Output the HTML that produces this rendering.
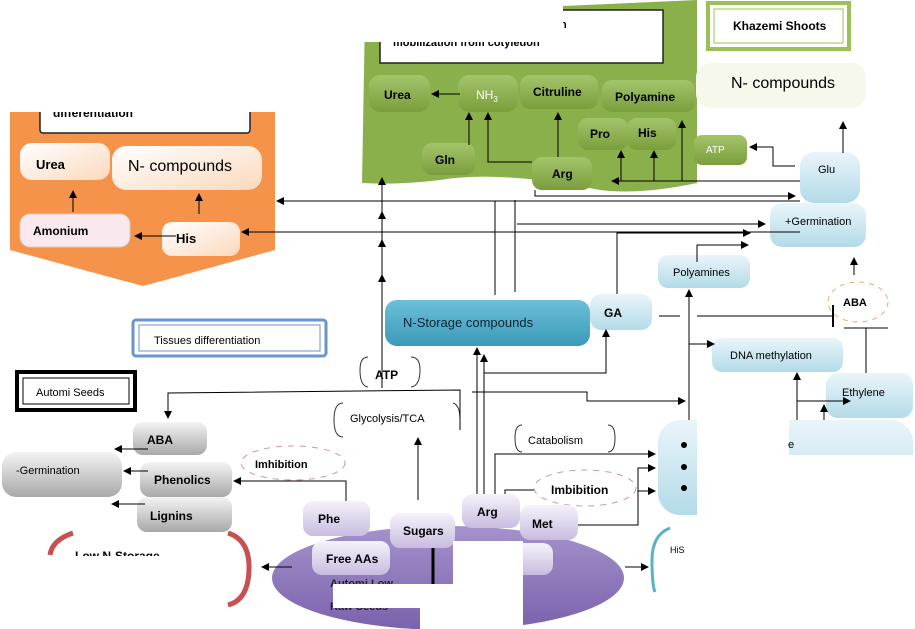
<!DOCTYPE html>
<html><head><meta charset="utf-8"><style>
html,body{margin:0;padding:0;background:#fff}
svg{display:block}
text{font-family:"Liberation Sans",sans-serif}
.b{font-weight:bold}
</style></head><body>
<svg width="915" height="629" viewBox="0 0 915 629" xmlns="http://www.w3.org/2000/svg">
<defs>
<marker id="a" markerWidth="8" markerHeight="8" refX="7" refY="4" orient="auto" markerUnits="userSpaceOnUse"><path d="M0,0 L8,4 L0,8 z" fill="#000"/></marker>
<linearGradient id="og" x1="0" y1="0" x2="1" y2="1"><stop offset="0" stop-color="#fff"/><stop offset="1" stop-color="#fbd9bd"/></linearGradient>
<linearGradient id="gg" x1="0" y1="0" x2="0" y2="1"><stop offset="0" stop-color="#a4c46a"/><stop offset="1" stop-color="#7a9e3c"/></linearGradient>
<linearGradient id="bl" x1="0" y1="0" x2="0" y2="1"><stop offset="0" stop-color="#eaf5fa"/><stop offset="1" stop-color="#b2dbe8"/></linearGradient>
<linearGradient id="tl" x1="0" y1="0" x2="0" y2="1"><stop offset="0" stop-color="#6cc0d8"/><stop offset="1" stop-color="#3a9ab8"/></linearGradient>
<linearGradient id="gr" x1="0" y1="0" x2="0" y2="1"><stop offset="0" stop-color="#f4f4f4"/><stop offset="1" stop-color="#a8a8a8"/></linearGradient>
<linearGradient id="pu" x1="0" y1="0" x2="0" y2="1"><stop offset="0" stop-color="#f6f2fa"/><stop offset="1" stop-color="#c9bce0"/></linearGradient>
<linearGradient id="pe" x1="0" y1="0" x2="0" y2="1"><stop offset="0" stop-color="#a592cb"/><stop offset="1" stop-color="#7a62ad"/></linearGradient>
</defs>

<!-- orange panel -->
<path d="M10,112 L275,112 L275,250 L143,286 L10,250 Z" fill="#f5934a"/>
<rect x="40" y="105" width="210" height="28" rx="3" fill="#fff" stroke="#222" stroke-width="1.5"/>
<text x="53" y="117" font-size="12" class="b">differentiation</text>
<rect x="0" y="0" width="300" height="112" fill="#fff"/>
<rect x="20" y="143" width="90" height="37" rx="12" fill="url(#og)"/>
<text x="36" y="169" font-size="13" class="b">Urea</text>
<rect x="112" y="146" width="150" height="44" rx="14" fill="url(#og)"/>
<text x="128" y="171" font-size="16">N- compounds</text>
<rect x="20" y="214" width="110" height="33" rx="10" fill="#f9e8ee" stroke="#dcb" />
<text x="33" y="235" font-size="12" class="b">Amonium</text>
<rect x="162" y="222" width="78" height="34" rx="10" fill="url(#og)"/>
<text x="176" y="243" font-size="13" class="b">His</text>
<line x1="73" y1="212" x2="73" y2="191" stroke="#000" marker-end="url(#a)"/>
<line x1="199" y1="214" x2="199" y2="194" stroke="#000" marker-end="url(#a)"/>
<line x1="176" y1="236" x2="135" y2="236" stroke="#000" marker-end="url(#a)"/>

<!-- green panel -->
<path d="M365,15 L697,0 L697,183 Q640,195 600,190 Q500,170 440,180 Q400,185 362,183 Z" fill="#8ab04b"/>
<rect x="380" y="10" width="283" height="53" fill="#fff" stroke="#222" stroke-width="1.5"/>
<text x="560" y="28" font-size="11" class="b">n</text>
<text x="393" y="46" font-size="11" class="b">mobilization  from  cotyledon</text>
<rect x="360" y="0" width="203" height="42" fill="#fff"/>
<rect x="369" y="75" width="61" height="37" rx="11" fill="url(#gg)"/>
<text x="384" y="99" font-size="12" class="b">Urea</text>
<rect x="458" y="75" width="60" height="37" rx="11" fill="url(#gg)"/>
<text x="476" y="99" font-size="12" fill="#fff">NH<tspan font-size="8" dy="3">3</tspan></text>
<rect x="520" y="75" width="78" height="34" rx="10" fill="url(#gg)"/>
<text x="533" y="96" font-size="12" class="b">Citruline</text>
<rect x="602" y="80" width="93" height="32" rx="10" fill="url(#gg)"/>
<text x="615" y="101" font-size="12" class="b">Polyamine</text>
<rect x="578" y="118" width="50" height="32" rx="10" fill="url(#gg)"/>
<text x="590" y="138" font-size="12" class="b">Pro</text>
<rect x="627" y="118" width="49" height="32" rx="10" fill="url(#gg)"/>
<text x="638" y="137" font-size="12" class="b">His</text>
<rect x="422" y="143" width="53" height="32" rx="10" fill="url(#gg)"/>
<text x="435" y="164" font-size="12" class="b">Gln</text>
<rect x="532" y="157" width="60" height="33" rx="10" fill="url(#gg)"/>
<text x="552" y="178" font-size="12" class="b">Arg</text>
<rect x="694" y="135" width="53" height="30" rx="8" fill="url(#gg)"/>
<text x="706" y="153" font-size="10" fill="#fff">ATP</text>
<line x1="460" y1="94" x2="432" y2="94" stroke="#000" marker-end="url(#a)"/>
<line x1="469" y1="145" x2="469" y2="113" stroke="#000" marker-end="url(#a)"/>
<polyline points="532,162 488,162 488,113" fill="none" stroke="#000" marker-end="url(#a)"/>
<line x1="558" y1="157" x2="558" y2="113" stroke="#000" marker-end="url(#a)"/>
<line x1="735" y1="94" x2="697" y2="94" stroke="#000" marker-end="url(#a)"/>
<polyline points="800,181 612,181" fill="none" stroke="#000" marker-end="url(#a)"/>
<line x1="621" y1="181" x2="621" y2="151" stroke="#000" marker-end="url(#a)"/>
<line x1="654" y1="181" x2="654" y2="151" stroke="#000" marker-end="url(#a)"/>
<line x1="682" y1="181" x2="682" y2="121" stroke="#000" marker-end="url(#a)"/>
<polyline points="795,166 773,166 773,147 750,147" fill="none" stroke="#000" marker-end="url(#a)"/>

<!-- Khazemi -->
<rect x="708" y="3" width="141" height="46" fill="#fff" stroke="#9bc05a" stroke-width="4"/>
<rect x="714" y="9" width="129" height="34" fill="none" stroke="#9bc05a" stroke-width="1"/>
<text x="733" y="30" font-size="12" class="b">Khazemi Shoots</text>
<rect x="696" y="63" width="170" height="45" rx="14" fill="#f6f8ec"/>
<text x="731" y="88" font-size="16">N- compounds</text>
<rect x="800" y="152" width="60" height="51" rx="14" fill="url(#bl)"/>
<text x="818" y="173" font-size="11">Glu</text>
<line x1="843" y1="153" x2="843" y2="122" stroke="#000" marker-end="url(#a)"/>
<rect x="770" y="203" width="96" height="44" rx="12" fill="url(#bl)"/>
<text x="785" y="225" font-size="11">+Germination</text>
<rect x="658" y="255" width="92" height="33" rx="10" fill="url(#bl)"/>
<text x="673" y="276" font-size="11">Polyamines</text>
<line x1="854" y1="275" x2="854" y2="258" stroke="#000" marker-end="url(#a)"/>
<ellipse cx="858" cy="302" rx="30" ry="20" fill="none" stroke="#e8a878" stroke-dasharray="5,5"/>
<text x="843" y="306" font-size="11" class="b">ABA</text>

<!-- horizontal lines from right -->
<line x1="800" y1="201" x2="277" y2="201" stroke="#000" marker-end="url(#a)"/>
<polyline points="535,190 535,196 795,196" fill="none" stroke="#000" marker-end="url(#a)"/>
<line x1="800" y1="232" x2="242" y2="232" stroke="#000" marker-end="url(#a)"/>
<polyline points="515,292 515,200" fill="none" stroke="#000"/>
<polyline points="495,295 495,201" fill="none" stroke="#000"/>
<polyline points="517,224 765,224" fill="none" stroke="#000" marker-end="url(#a)"/>
<polyline points="617,296 617,233 750,233" fill="none" stroke="#000" marker-end="url(#a)"/>
<polyline points="697,262 697,245 748,245" fill="none" stroke="#000" marker-end="url(#a)"/>
<line x1="382" y1="388" x2="382" y2="178" stroke="#000" marker-end="url(#a)"/>
<line x1="382" y1="300" x2="382" y2="275" stroke="#000" marker-end="url(#a)"/>
<line x1="382" y1="250" x2="382" y2="240" stroke="#000" marker-end="url(#a)"/>
<line x1="382" y1="222" x2="382" y2="212" stroke="#000" marker-end="url(#a)"/>

<!-- N storage -->
<rect x="385" y="300" width="205" height="46" rx="12" fill="url(#tl)"/>
<text x="403" y="327" font-size="13" fill="#123">N-Storage compounds</text>
<rect x="590" y="294" width="62" height="36" rx="11" fill="url(#bl)"/>
<text x="604" y="317" font-size="12" class="b">GA</text>
<line x1="659" y1="316" x2="680" y2="316" stroke="#000"/>
<line x1="697" y1="316" x2="833" y2="316" stroke="#000"/>
<line x1="833" y1="305" x2="833" y2="327" stroke="#000" stroke-width="2"/>
<line x1="844" y1="328" x2="888" y2="328" stroke="#000"/>
<line x1="866" y1="328" x2="866" y2="373" stroke="#000"/>
<rect x="712" y="338" width="131" height="34" rx="10" fill="url(#bl)"/>
<text x="730" y="359" font-size="11">DNA methylation</text>
<rect x="826" y="373" width="87" height="45" rx="12" fill="url(#bl)"/>
<text x="842" y="396" font-size="11">Ethylene</text>
<line x1="689" y1="420" x2="689" y2="290" stroke="#000" marker-end="url(#a)"/>
<line x1="689" y1="344" x2="714" y2="344" stroke="#000" marker-end="url(#a)"/>
<line x1="797" y1="447" x2="797" y2="373" stroke="#000" marker-end="url(#a)"/>
<line x1="797" y1="401" x2="850" y2="401" stroke="#000" marker-end="url(#a)"/>
<line x1="824" y1="425" x2="824" y2="405" stroke="#000" marker-end="url(#a)"/>

<rect x="133" y="320" width="193" height="36" rx="3" fill="#fff" stroke="#6a95c8" stroke-width="3"/>
<rect x="139" y="325" width="181" height="26" fill="none" stroke="#6a95c8"/>
<text x="154" y="344" font-size="11">Tissues differentiation</text>
<rect x="17" y="372" width="118" height="38" fill="#fff" stroke="#000" stroke-width="4"/>
<rect x="23" y="378" width="106" height="26" fill="none" stroke="#000"/>
<text x="36" y="396" font-size="11">Automi Seeds</text>

<path d="M368,357 Q360,357 360,370 Q360,386 368,387 M411,357 Q420,357 420,370 Q420,386 411,387" fill="none" stroke="#333"/>
<text x="375" y="379" font-size="12" class="b">ATP</text>
<path d="M343,403 Q334,403 334,420 Q334,437 343,437 M453,403 Q460,405 460,420" fill="none" stroke="#333"/>
<text x="350" y="422" font-size="11">Glycolysis/TCA</text>
<path d="M522,425 Q515,425 515,438 Q515,452 522,452 M608,425 Q615,425 615,438 Q615,452 608,452" fill="none" stroke="#333"/>
<text x="528" y="444" font-size="11">Catabolism</text>

<polyline points="460,430 460,390 168,393 168,418" fill="none" stroke="#000" marker-end="url(#a)"/>
<polyline points="472,392 587,392 587,401 685,401" fill="none" stroke="#000" marker-end="url(#a)"/>
<line x1="477" y1="500" x2="477" y2="348" stroke="#000" marker-end="url(#a)"/>
<line x1="484" y1="500" x2="484" y2="355" stroke="#000" marker-end="url(#a)"/>
<polyline points="484,373 606,373 606,330" fill="none" stroke="#000" marker-end="url(#a)"/>
<line x1="418" y1="500" x2="418" y2="438" stroke="#000" marker-end="url(#a)"/>
<polyline points="495,494 495,454 655,454" fill="none" stroke="#000" marker-end="url(#a)"/>
<polyline points="505,494 505,490 535,490" fill="none" stroke="#000"/>
<polyline points="575,525 638,525 638,468 655,468" fill="none" stroke="#000" marker-end="url(#a)"/>
<line x1="638" y1="491" x2="655" y2="491" stroke="#000" marker-end="url(#a)"/>

<!-- left gray -->
<rect x="133" y="422" width="74" height="33" rx="10" fill="url(#gr)"/>
<text x="147" y="444" font-size="12" class="b">ABA</text>
<rect x="2" y="452" width="120" height="45" rx="14" fill="url(#gr)"/>
<text x="16" y="474" font-size="11">-Germination</text>
<rect x="140" y="462" width="92" height="35" rx="10" fill="url(#gr)"/>
<text x="154" y="484" font-size="12" class="b">Phenolics</text>
<rect x="137" y="497" width="95" height="35" rx="10" fill="url(#gr)"/>
<text x="150" y="520" font-size="12" class="b">Lignins</text>
<line x1="148" y1="449" x2="115" y2="449" stroke="#000" marker-end="url(#a)"/>
<line x1="148" y1="471" x2="124" y2="471" stroke="#000" marker-end="url(#a)"/>
<line x1="145" y1="504" x2="112" y2="504" stroke="#000" marker-end="url(#a)"/>
<polyline points="346,505 346,481 234,481" fill="none" stroke="#000" marker-end="url(#a)"/>
<ellipse cx="293" cy="463" rx="52" ry="17" fill="none" stroke="#c99" stroke-dasharray="6,6"/>
<text x="255" y="468" font-size="11" class="b">Imhibition</text>
<ellipse cx="585" cy="488" rx="51" ry="18" fill="none" stroke="#c99" stroke-dasharray="6,6"/>
<text x="551" y="494" font-size="12" class="b">Imbibition</text>

<!-- purple -->
<ellipse cx="448" cy="578" rx="176" ry="52" fill="url(#pe)"/>
<rect x="303" y="501" width="67" height="35" rx="10" fill="url(#pu)"/>
<text x="318" y="523" font-size="12" class="b">Phe</text>
<rect x="390" y="513" width="65" height="35" rx="10" fill="url(#pu)"/>
<text x="403" y="535" font-size="12" class="b">Sugars</text>
<rect x="462" y="494" width="58" height="34" rx="10" fill="url(#pu)"/>
<text x="477" y="516" font-size="12" class="b">Arg</text>
<rect x="520" y="505" width="58" height="35" rx="10" fill="url(#pu)"/>
<text x="532" y="528" font-size="12" class="b">Met</text>
<line x1="433" y1="548" x2="433" y2="585" stroke="#000" stroke-width="3"/>
<rect x="312" y="541" width="78" height="34" rx="10" fill="url(#pu)"/>
<text x="326" y="563" font-size="12" class="b">Free AAs</text>
<rect x="453" y="543" width="100" height="32" rx="10" fill="url(#pu)"/>
<text x="330" y="587" font-size="11" class="b" fill="#222">Automi Low</text>
<text x="330" y="610" font-size="11" class="b" fill="#222">Raw Seeds</text>
<rect x="333" y="584" width="190" height="24" fill="#fff"/>
<rect x="420" y="584" width="103" height="45" fill="#fff"/>
<rect x="453" y="541" width="70" height="88" fill="#fff"/>
<line x1="292" y1="567" x2="262" y2="567" stroke="#000" marker-end="url(#a)"/>
<line x1="625" y1="567" x2="648" y2="567" stroke="#000" marker-end="url(#a)"/>
<path d="M73,533 Q52,540 50,555" fill="none" stroke="#c85050" stroke-width="5"/>
<path d="M228,533 Q250,540 249,570 Q248,600 228,605" fill="none" stroke="#c85050" stroke-width="5"/>
<text x="75" y="560" font-size="12" class="b">Low N-Storage</text>
<rect x="40" y="556" width="200" height="10" fill="#fff"/>
<path d="M670,528 Q652,535 652,560 Q652,585 655,592" fill="none" stroke="#5ab0c8" stroke-width="3"/>
<text x="670" y="553" font-size="9">HiS</text>

<!-- right teal box -->
<rect x="658" y="420" width="255" height="95" rx="22" fill="url(#bl)"/>
<rect x="697" y="455" width="218" height="174" fill="#fff"/>
<rect x="697" y="418" width="92" height="40" fill="#fff"/>
<text x="788" y="448" font-size="11">e</text>
<circle cx="684" cy="445" r="3" fill="#000"/>
<circle cx="684" cy="467" r="3" fill="#000"/>
<circle cx="684" cy="488" r="3" fill="#000"/>
</svg>
</body></html>
